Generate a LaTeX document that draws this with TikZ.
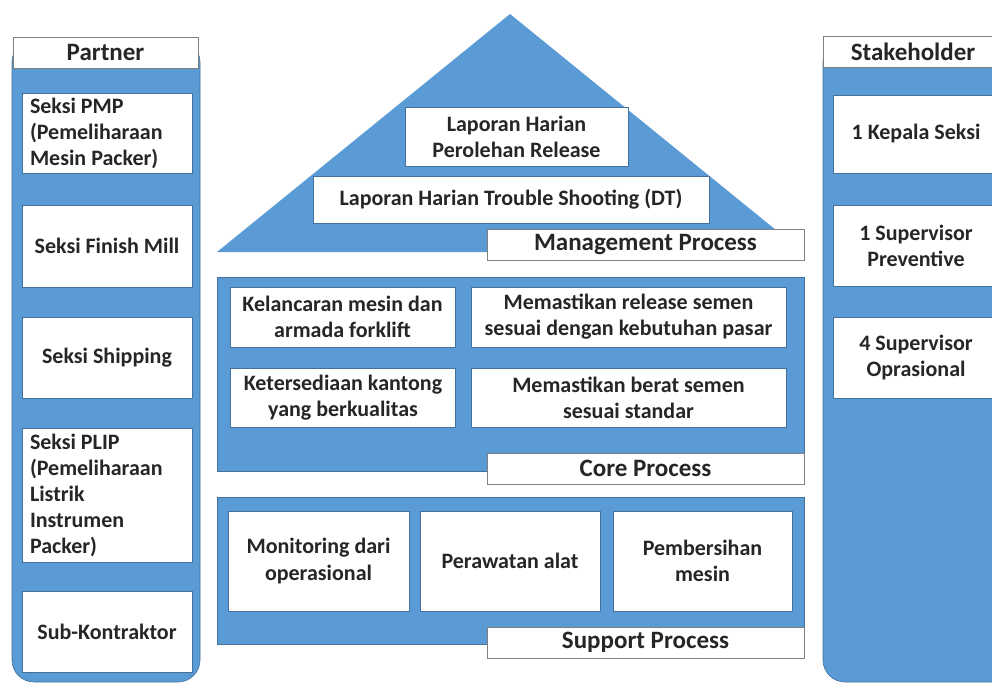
\documentclass[tikz,border=0pt]{standalone}
\usepackage{fontspec}
\setmainfont{Carlito}
\usepackage{xcolor}
\definecolor{panelblue}{HTML}{5B9BD5}
\definecolor{edgeblue}{HTML}{41719C}
\definecolor{titlegray}{HTML}{7F7F7F}
\definecolor{inkgray}{HTML}{262626}

\begin{document}
\begin{tikzpicture}[x = 1pt, y = -1pt,
	panel/.style = {fill = panelblue, draw = edgeblue, line width = 0.6pt},
	itembox/.style = {draw = edgeblue, fill = white, line width = 0.8pt, inner sep = 0pt, align = center, text = inkgray, font = \fontsize{22}{26}\selectfont\bfseries},
	titlebox/.style = {draw = titlegray, fill = white, line width = 0.8pt, inner sep = 0pt, align = center, text = inkgray, font = \fontsize{25}{30}\selectfont\bfseries, minimum width = 317, minimum height = 31}]

\useasboundingbox (0, 0) rectangle (992, 683);
\clip (0, 0) rectangle (992, 683);

	% partner column
\draw [panel, rounded corners = 22] (12, 40) rectangle (200, 682);
\node [titlebox, minimum width = 185] (partner) at (105.5, 52.5) {Partner};
\node [itembox, align = flush left, text width = 154, inner xsep = 8, minimum height = 80] (pmp) at (107, 133) {Seksi PMP\\(Pemeliharaan\\Mesin Packer)};
\node [itembox, minimum width = 170, minimum height = 82] (finish) at (107, 246) {Seksi Finish Mill};
\node [itembox, minimum width = 170, minimum height = 81] (shipping) at (107, 357.5) {Seksi Shipping};
\node [itembox, align = flush left, text width = 154, inner xsep = 8, minimum height = 134] (plip) at (107, 495) {Seksi PLIP\\(Pemeliharaan\\Listrik\\Instrumen\\Packer)};
\node [itembox, minimum width = 170, minimum height = 81] (subkon) at (107, 631.5) {Sub-Kontraktor};

	% stakeholder column
\draw [panel, rounded corners = 22] (823, 40) rectangle (1020, 682);
\node [titlebox, minimum width = 180] (stake) at (913, 52) {Stakeholder};
\node [itembox, minimum width = 166, minimum height = 78] (kasi) at (916, 134) {1 Kepala Seksi};
\node [itembox, minimum width = 166, minimum height = 81] (spvprev) at (916, 245.5) {1 Supervisor\\Preventive};
\node [itembox, minimum width = 166, minimum height = 81] (spvops) at (916, 357.5) {4 Supervisor\\Oprasional};

	% management roof
\fill [panelblue] (510, 14) -- (217, 252) -- (803, 252) -- cycle;
\node [itembox, minimum width = 223, minimum height = 59] (release) at (516.5, 136.5) {Laporan Harian\\Perolehan Release};
\node [itembox, minimum width = 396, minimum height = 47] (trouble) at (511, 199.5) {Laporan Harian Trouble Shooting (DT)};
\node [titlebox] (mgmt) at (645.5, 244.5) {Management Process};

	% core process
\draw [panel] (217, 277) rectangle (804, 471);
\node [itembox, minimum width = 225, minimum height = 60] (forklift) at (342.5, 317) {Kelancaran mesin dan\\armada forklift};
\node [itembox, minimum width = 315, minimum height = 60] (pasar) at (628.5, 317) {Memastikan release semen\\sesuai dengan kebutuhan pasar};
\node [itembox, minimum width = 225, minimum height = 59] (kantong) at (343, 397.5) {Ketersediaan kantong\\yang berkualitas};
\node [itembox, minimum width = 315, minimum height = 59] (berat) at (628.5, 397.5) {Memastikan berat semen\\sesuai standar};
\node [titlebox] (core) at (645.5, 468.5) {Core Process};

	% support process
\draw [panel] (217, 497) rectangle (804, 644);
\node [itembox, minimum width = 181, minimum height = 100] (monitor) at (318.5, 561) {Monitoring dari\\operasional};
\node [itembox, minimum width = 180, minimum height = 100] (rawat) at (510, 561) {Perawatan alat};
\node [itembox, minimum width = 179, minimum height = 100] (bersih) at (702.5, 561) {Pembersihan\\mesin};
\node [titlebox] (support) at (645.5, 642.5) {Support Process};

\end{tikzpicture}
\end{document}
